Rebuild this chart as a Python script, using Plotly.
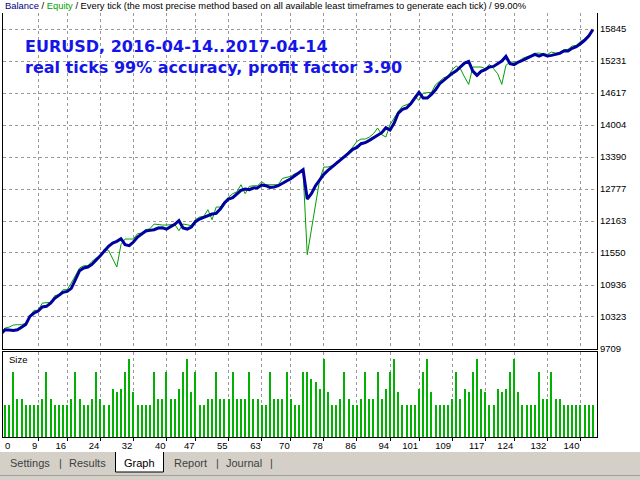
import plotly.graph_objects as go

# trade number (0 = initial deposit)
trades = list(range(144))

balance = [
    10000, 10079, 10073, 10066, 10079, 10130, 10181, 10335, 10399, 10437,
    10514, 10527, 10590, 10680, 10731, 10795, 10814, 10872, 11038, 11210,
    11262, 11281, 11332, 11409, 11498, 11588, 11677, 11741, 11773, 11824,
    11709, 11690, 11760, 11856, 11913, 11971, 11984, 11996, 12029, 12035,
    12009, 12048, 12099, 12169, 12029, 12009, 12048, 12150, 12201, 12233,
    12265, 12297, 12310, 12393, 12508, 12585, 12610, 12674, 12751, 12776,
    12764, 12796, 12802, 12853, 12840, 12808, 12815, 12840, 12891, 12930,
    12974, 13032, 13083, 13147, 12585, 12687, 12840, 12955, 13058, 13134,
    13198, 13275, 13339, 13403, 13464, 13537, 13575, 13646, 13665, 13710,
    13761, 13812, 13857, 13952, 13908, 14042, 14234, 14304, 14330, 14413,
    14521, 14630, 14521, 14521, 14592, 14681, 14796, 14866, 14924, 14994,
    15045, 15128, 15192, 15224, 15039, 14956, 15033, 15065, 15116, 15128,
    15186, 15231, 15320, 15180, 15160, 15212, 15244, 15276, 15320, 15359,
    15327, 15359, 15327, 15339, 15352, 15378, 15423, 15423, 15474, 15506,
    15563, 15627, 15710, 15832,
]

equity = [
    10000, 10111, 10130, 10169, 10175, 10175, 10207, 10347, 10450, 10450,
    10590, 10590, 10603, 10731, 10750, 10846, 10846, 10974, 11115, 11262,
    11306, 11306, 11389, 11453, 11485, 11626, 11600, 11453, 11281, 11709,
    11818, 11818, 11818, 11920, 11933, 11997, 12016, 12105, 12092, 12086,
    12086, 12086, 12099, 11977, 12105, 12092, 12073, 12189, 12240, 12252,
    12380, 12189, 12431, 12431, 12540, 12623, 12687, 12725, 12859, 12687,
    12827, 12840, 12840, 12917, 12859, 12859, 12859, 12859, 12981, 13006,
    13019, 13070, 13096, 13115, 11517, 11997, 12508, 12955, 13198, 13198,
    13224, 13288, 13352, 13416, 13499, 13582, 13690, 13735, 13735, 13773,
    13837, 13946, 13818, 13773, 14010, 14138, 14266, 14362, 14387, 14426,
    14553, 14477, 14617, 14630, 14630, 14777, 14841, 14911, 14937, 15060,
    15135, 15084, 14924, 14783, 15116, 15116, 15116, 15084, 15167, 15084,
    14988, 14783, 15148, 15212, 15205, 15212, 15282, 15307, 15339, 15378,
    15384, 15371, 15359, 15403, 15384, 15397, 15448, 15455, 15518, 15531,
    15608, 15653, 15736, 15819,
]

# position size of each closed trade (relative units), trades 1..143
size_trades = list(range(1, 144))
sizes = [
    0.96, 0.96, 1.95, 1.14, 1.14, 0.96, 0.96, 0.96, 0.96, 1.14,
    1.95, 1.14, 0.96, 0.96, 0.96, 0.96, 1.14, 1.95, 1.14, 0.96,
    0.96, 1.14, 1.95, 1.14, 0.96, 0.96, 1.44, 1.35, 1.44, 1.95,
    2.34, 1.35, 0.96, 0.96, 0.96, 0.96, 1.95, 1.14, 1.14, 1.95,
    1.14, 1.14, 1.44, 1.95, 2.34, 1.35, 1.95, 0.96, 0.96, 1.14,
    1.14, 1.95, 1.14, 1.14, 1.14, 1.95, 1.14, 1.14, 1.14, 1.95,
    1.14, 1.14, 0.96, 0.96, 1.95, 1.14, 1.14, 1.14, 1.95, 1.14,
    0.96, 0.96, 1.95, 1.95, 1.74, 1.65, 1.44, 2.34, 1.35, 0.96,
    0.96, 1.14, 1.95, 1.14, 0.96, 0.96, 1.14, 1.95, 1.14, 1.14,
    1.95, 1.14, 1.44, 1.95, 2.34, 1.35, 0.96, 0.96, 0.96, 0.96,
    1.44, 1.95, 2.34, 1.35, 0.96, 0.96, 0.96, 0.96, 1.14, 1.95,
    1.14, 1.44, 1.35, 1.95, 2.34, 1.44, 1.35, 0.96, 0.96, 1.44,
    1.35, 1.44, 1.95, 2.34, 1.35, 0.96, 0.96, 0.96, 0.96, 1.95,
    1.14, 1.14, 1.95, 1.14, 1.14, 0.96, 0.96, 0.96, 0.96, 0.96,
    0.96, 0.96, 0.96,
]

y_ticks = [9709, 10323, 10936, 11550, 12163, 12777, 13390, 14004, 14617, 15231, 15845]
x_ticks = [9, 16, 24, 32, 40, 47, 55, 63, 70, 78, 86, 94, 101, 109, 117, 124, 132, 140]
tabs = ["Settings", "Results", "Graph", "Report", "Journal"]

header = ("<span style='color:#000080'>Balance</span> / "
          "<span style='color:#00a000'>Equity</span> / Every tick (the most precise method "
          "based on all available least timeframes to generate each tick) / 99.00%")
title1 = "EURUSD, 2016-04-14..2017-04-14"
title2 = "real ticks 99% accuracy, profit factor 3.90"

W, H = 640, 480


def px(p):
    return p / W


def py(p):
    return 1 - p / H


FONT = "Liberation Sans"
grid = dict(showgrid=True, gridcolor="#999999", gridwidth=1, griddash="dot")
xdom = [px(3), px(597)]
xrange_ = [0.5, 144]

fig = go.Figure()
fig.add_trace(go.Scatter(x=trades, y=equity, mode="lines",
                         line=dict(color="#00a000", width=1), xaxis="x", yaxis="y"))
fig.add_trace(go.Scatter(x=trades, y=balance, mode="lines",
                         line=dict(color="#0000a0", width=3), xaxis="x", yaxis="y"))
fig.add_trace(go.Bar(x=size_trades, y=sizes, width=0.25,
                     marker=dict(color="#00b000", opacity=0.99, line=dict(width=0)),
                     xaxis="x2", yaxis="y2"))

fig.update_layout(
    width=W, height=H, margin=dict(l=0, r=0, t=0, b=0),
    paper_bgcolor="white", plot_bgcolor="white", showlegend=False,
    font=dict(family=FONT, size=9, color="black"),
    xaxis=dict(domain=xdom, range=xrange_, anchor="y", tickvals=x_ticks,
               showticklabels=False, ticks="", showline=True, linecolor="black",
               zeroline=False, automargin=False, **grid),
    yaxis=dict(domain=[py(349), py(13)], range=[9709, 16152], anchor="x", side="right",
               tickvals=y_ticks, tickformat="d", ticks="", showline=True, mirror=True,
               linecolor="black", zeroline=False, automargin=False,
               tickfont=dict(size=9.5), **grid),
    xaxis2=dict(domain=xdom, range=xrange_, anchor="y2", tickvals=x_ticks,
                ticks="outside", ticklen=3, tickcolor="black",
                ticklabelposition="outside left", showline=True, mirror=True,
                linecolor="black", zeroline=False, automargin=False,
                tickfont=dict(size=9.5), **grid),
    yaxis2=dict(domain=[py(437), py(351.5)], range=[0, 2.565], anchor="x2",
                showticklabels=False, showgrid=False, zeroline=False, ticks="",
                showline=True, mirror=True, linecolor="black", automargin=False),
)

ann = [
    dict(x=px(3), y=py(6), text=header, font=dict(size=9.4)),
    dict(x=px(23), y=py(47), text="<b>" + title1 + "</b>",
         font=dict(family="DejaVu Sans", size=16, color="#1515e8")),
    dict(x=px(23), y=py(67), text="<b>" + title2 + "</b>",
         font=dict(family="DejaVu Sans", size=16, color="#1515e8")),
    dict(x=px(7), y=py(359), text="Size", font=dict(size=9.5)),
    dict(x=px(3), y=py(445.5), text="0", font=dict(size=9.5)),
]
for a in ann:
    fig.add_annotation(xref="paper", yref="paper", xanchor="left", yanchor="middle",
                       showarrow=False, **a)

# tab strip at the bottom of the tester window
tab_x = [30, 87, 139, 190, 244]
sep_x = [60.5, 217.5, 271.5]
shapes = [
    dict(type="rect", x0=0, x1=1, y0=py(480), y1=py(452), fillcolor="#d4d0c8", line=dict(width=0)),
    dict(type="rect", x0=px(115.5), x1=px(163.5), y0=py(472), y1=py(451),
         fillcolor="white", line=dict(width=0)),
    dict(type="line", x0=px(115.5), x1=px(115.5), y0=py(472), y1=py(452), line=dict(color="black", width=1)),
    dict(type="line", x0=px(163.5), x1=px(163.5), y0=py(472), y1=py(452), line=dict(color="black", width=1)),
    dict(type="line", x0=px(115.5), x1=px(163.5), y0=py(472), y1=py(472), line=dict(color="black", width=1)),
    dict(type="line", x0=0, x1=1, y0=py(475.5), y1=py(475.5), line=dict(color="#a0a0a0", width=1)),
]
for s in shapes:
    fig.add_shape(xref="paper", yref="paper", **s)
for name, cx in zip(tabs, tab_x):
    fig.add_annotation(x=px(cx), y=py(463), xref="paper", yref="paper", text=name,
                       showarrow=False, xanchor="center", yanchor="middle",
                       font=dict(size=11, color="black" if name == "Graph" else "#404040"))
for sx in sep_x:
    fig.add_annotation(x=px(sx), y=py(463), xref="paper", yref="paper", text="|",
                       showarrow=False, xanchor="center", yanchor="middle",
                       font=dict(size=11, color="#404040"))

# the page body has a default 8px margin; drop it so the figure fills the window
fig.write_html("out.html", config={"displayModeBar": False},
               post_script="document.body.style.margin='0';document.body.style.overflow='hidden';")
